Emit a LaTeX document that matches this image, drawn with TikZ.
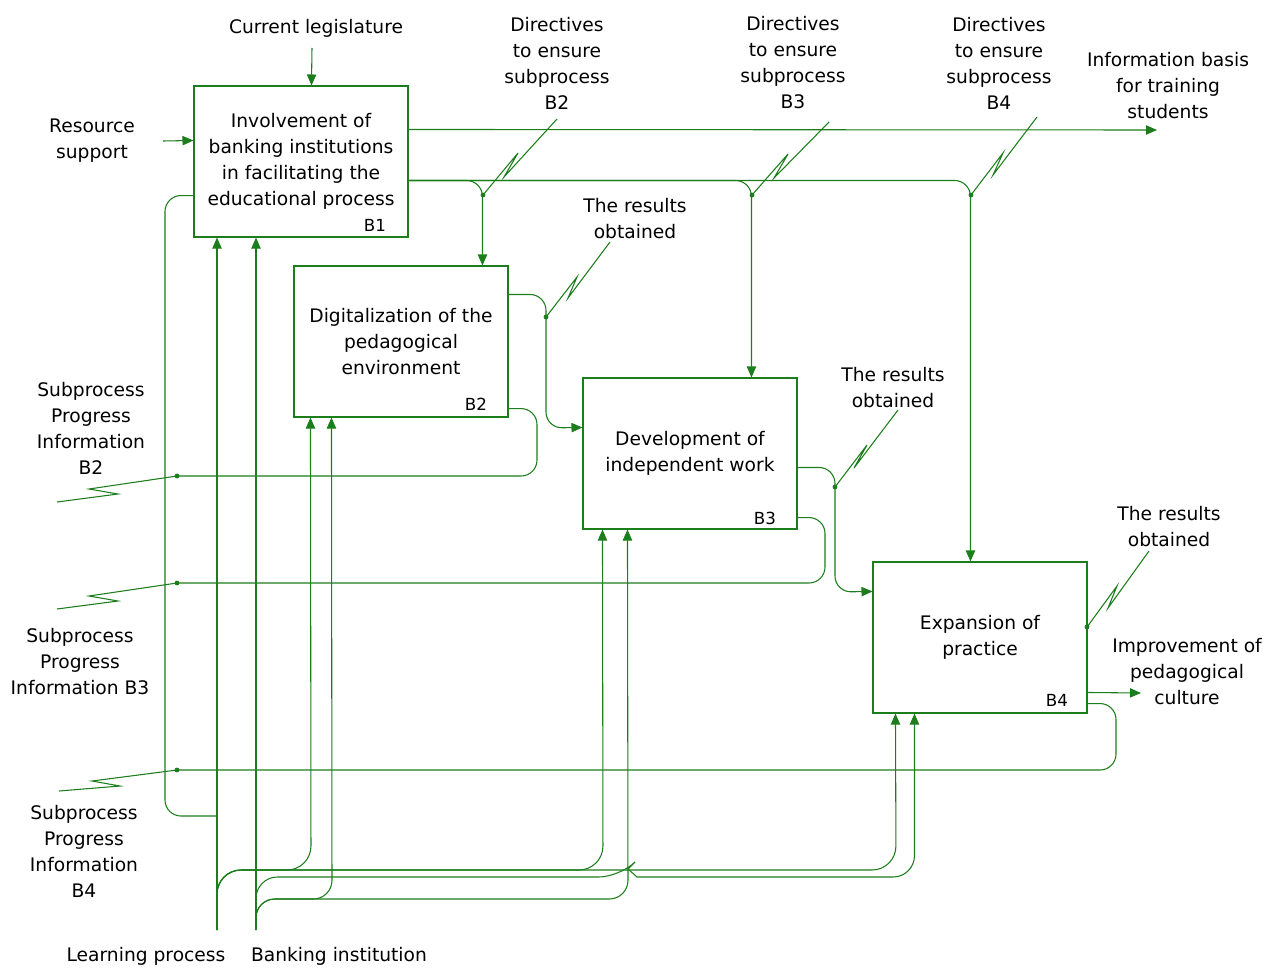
\documentclass[tikz,border=0pt]{standalone}
\usepackage{fontspec}
\setmainfont{DejaVu Sans}
\usetikzlibrary{arrows.meta,calc}
\definecolor{ln}{RGB}{28,125,28}
\begin{document}
\begin{tikzpicture}[x=0.75pt,y=-0.75pt,
  every node/.style={inner sep=0pt},
  txt/.style={align=center,font=\fontsize{14}{19.5}\selectfont},
  box/.style={draw=ln,line width=0.8pt,minimum width=160.5pt,minimum height=113.25pt,align=center,font=\fontsize{14}{19.5}\selectfont},
  num/.style={font=\fontsize{12.5}{14}\selectfont},
  wire/.style={draw=ln,line width=0.8pt},
  arr/.style={wire,-{Triangle[length=8.25pt,width=7pt]}},
  rc/.style={rounded corners=12pt},
  jdot/.style={circle,fill=ln,minimum size=3.6pt},
]
\useasboundingbox (0,0) rectangle (1266,968);

% boxes
\node[box] (B1) at (301,161.5) {Involvement of\\banking institutions\\in facilitating the\\educational process};
\node[box] (B2) at (401,341.5) {Digitalization of the\\pedagogical\\environment};
\node[box] (B3) at (690,453.5) {Development of\\independent work};
\node[box] (B4) at (980,637.5) {Expansion of\\practice};
\node[num] (n1) at (375,225) {B1};
\node[num] (n2) at (476,404) {B2};
\node[num] (n3) at (765,518) {B3};
\node[num] (n4) at (1057,700) {B4};

% labels
\node[txt] (cl) at (316,28) {Current legislature};
\node[txt] (rs) at (92,141) {Resource\\support};
\node[txt] (d2) at (557,63) {Directives\\to ensure\\subprocess\\B2};
\node[txt] (d3) at (793,63) {Directives\\to ensure\\subprocess\\B3};
\node[txt] (d4) at (999,63) {Directives\\to ensure\\subprocess\\B4};
\node[txt] (ibl) at (1168,86) {Information basis\\for training\\students};
\node[txt] (r2) at (635,219) {The results\\obtained};
\node[txt] (r3) at (893,388) {The results\\obtained};
\node[txt] (r4) at (1169,527) {The results\\obtained};
\node[txt] (imp) at (1187,672) {Improvement of\\pedagogical\\culture};
\node[txt] (s2) at (91,428) {Subprocess\\Progress\\Information\\B2};
\node[txt] (s3) at (80,662) {Subprocess\\Progress\\Information B3};
\node[txt] (s4) at (84,851) {Subprocess\\Progress\\Information\\B4};
\node[txt] (lpl) at (146,956) {Learning process};
\node[txt] (bil) at (339,956) {Banking institution};

% free ends
\coordinate (clin) at (312,48);
\coordinate (rsin) at (163,141);
\coordinate (ibout) at (1157,130);
\coordinate (impout) at (1141,693);
\coordinate (lp) at (217,930);
\coordinate (bi) at (256,930);

% inputs / controls
\draw[arr] (clin) -- ($(B1.north west)+(118,0)$);
\draw[arr] (rsin) -- ($(B1.north west)+(0,55)$);
\draw[arr] ($(B1.north east)+(0,44)$) -- (ibout);

\draw[arr,rc] ($(B1.north east)+(0,95)$) -| ($(B2.north west)+(189,0)$);
\draw[arr,rc] ($(B1.north east)+(0,95)$) -| ($(B3.north west)+(169,0)$);
\draw[arr,rc] ($(B1.north east)+(0,95)$) -| ($(B4.north west)+(98,0)$);

% outputs between boxes
\draw[arr,rc] ($(B2.north east)+(0,29)$) -| (546,428) -- ($(B3.north west)+(0,50)$);
\draw[arr,rc] ($(B3.north east)+(0,90)$) -| (835,592) -- ($(B4.north west)+(0,30)$);
\draw[arr] ($(B4.north east)+(0,131)$) -- (impout);

% feedback outputs
\draw[wire,rc] ($(B2.south east)+(0,-9)$) -| (537,476) -- (177,476);
\draw[wire,rc] ($(B3.south east)+(0,-12)$) -| (825,583) -- (177,583);
\draw[wire,rc] ($(B4.south east)+(0,-10)$) -| (1116,770) -- (177,770);
\draw[wire,rc] ($(B1.south west)+(0,-42)$) -| (165,816) -- (217,816);

% mechanisms
\draw[arr] (lp) -- (lp |- B1.south);
\draw[arr,rounded corners=18pt] (lp) |- (311,870) -- ($(B2.south west)+(17,0)$);
\draw[arr,rounded corners=18pt] (lp) |- (603,870) -- ($(B3.south west)+(20,0)$);
\draw[arr,rounded corners=18pt] (lp) |- (896,870) -- ($(B4.south west)+(23,0)$);
\draw[arr] (bi) -- (bi |- B1.south);
\draw[arr,rounded corners=14pt] (bi) |- (332,899) -- ($(B2.south west)+(38,0)$);
\draw[arr,rounded corners=14pt] (bi) |- (628,899) -- ($(B3.south west)+(45,0)$);
\draw[arr,rounded corners=16pt] (bi) |- (620,877) [sharp corners] -- (628,869) -- (637,877) [rounded corners=16pt] -| ($(B4.south west)+(42,0)$);

% junction dots
\node[jdot] (j1) at (483,195) {};
\node[jdot] (j2) at (752,195) {};
\node[jdot] (j3) at (971,195) {};
\node[jdot] (j4) at (546,317) {};
\node[jdot] (j5) at (835,487) {};
\node[jdot] (j6) at (1087,627) {};
\node[jdot] (j7) at (177,476) {};
\node[jdot] (j8) at (177,583) {};
\node[jdot] (j9) at (177,770) {};

% squiggles
\draw[wire] (557,119) -- (504,177) -- (518,153) -- (j1.center);
\draw[wire] (829,122) -- (774,178) -- (788,154) -- (j2.center);
\draw[wire] (1037,117) -- (993,175) -- (1003,153) -- (j3.center);
\draw[wire] (610,242) -- (568,298) -- (577,277) -- (j4.center);
\draw[wire] (898,410) -- (854,468) -- (867,445) -- (j5.center);
\draw[wire] (1149,551) -- (1108,608) -- (1117,586) -- (j6.center);
\draw[wire] (57,502) -- (118,494) -- (89,489) -- (j7.center);
\draw[wire] (57,609) -- (118,601) -- (89,596) -- (j8.center);
\draw[wire] (59,791) -- (120,786) -- (92,781) -- (j9.center);
\end{tikzpicture}
\end{document}
